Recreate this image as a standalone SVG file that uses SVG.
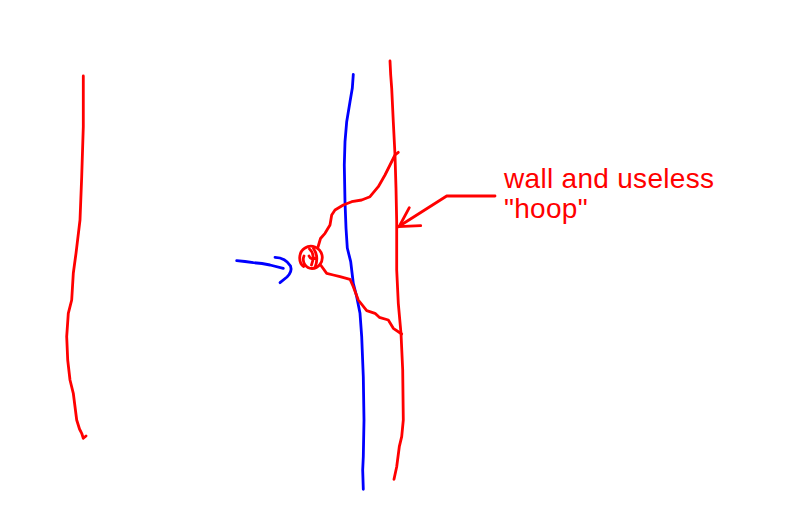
<svg xmlns="http://www.w3.org/2000/svg" width="800" height="517" viewBox="0 0 800 517">
<style>
.r{fill:none;stroke:#ff0000;stroke-width:2.8;stroke-linecap:round;stroke-linejoin:round}
.b{fill:none;stroke:#0000ff;stroke-width:2.8;stroke-linecap:round;stroke-linejoin:round}
.t{fill:#ff0000;font-family:"Liberation Sans",Arial,sans-serif;font-size:28px;letter-spacing:0.3px}
</style>
<rect width="800" height="517" fill="#ffffff"/>
<g id="left-wall">
<polyline class="r" points="83.3,76 83.3,126.7 81.7,176.7 80,220 76,253.3 73.3,273.3 71.7,300 68.3,313.3 66.7,336.7 67.7,360 70,380 73.3,393.3 76.7,420 79.5,429 81.7,433.3 83.3,438.3 86,436"/>
</g>
<g id="blue-line">
<polyline class="b" points="353.3,74.3 352.3,88.3 350,101.7 346.7,121.7 345,141.7 344.3,165 345,201.7 346,228 347.3,248 350.7,261.7 352.3,275 353.3,283.3 356.7,296.7 360,313.3 361.7,336.7 363.3,376.7 364,420 363.3,456.7 362.7,470 363.3,489.3"/>
</g>
<g id="red-wall">
<polyline class="r" points="390,61 390.7,75 391.7,88.3 393.3,121.7 395,155 396,188.3 396.7,221.7 396.7,270 398.3,303.3 401,333.3 402.7,370 403.3,420 401.7,436.7 399.3,446.7 396.7,466.7 394,479.3"/>
</g>
<g id="hoop">
<polyline class="r" points="398.3,152.3 395,155 390,165 385,175 378.3,186.7 370,196.7 361.7,200 351.7,201.7 343.3,205 335,210 331.7,215 330,225 325,233.3 320.5,238.5 318,247"/>
<path class="r" d="M303.5,266.5 C298,262 298.5,252 305,248 C311,244 320,247 322,255 C323.5,262 318.5,268.5 312,268.5 C306,268.5 301.5,262 304,256"/>
<path class="r" d="M309.5,249 C313,252 314,258 311.5,265 M313.5,248.5 C317.5,254 317.5,261 315,267.5 M309,256 C310.5,259.5 313,260 316.5,257.5"/>
<polyline class="r" points="321,265.5 326.7,273.3 333.3,275 340,276.7 350,279.3 353.3,286.7 358.3,300 366.7,310.7 375,313.3 379.3,317.3 388.3,320 393.3,328.3 401.7,334"/>
</g>
<g id="blue-arrow">
<polyline class="b" points="236.7,260.7 245,261.5 253.3,262.7 262,263.5 270,265 283.3,268.3"/>
<path class="b" d="M275,257.3 C281,257.5 287,260 290.5,266 C292,270 290,274 287,277 L280,282.7"/>
</g>
<g id="label">
<text class="t" x="504" y="188">wall and useless</text>
<text class="t" x="504" y="218">"hoop"</text>
</g>
<g id="connectors">
<polyline class="r" points="495,196 446.7,196 398.3,226.7"/>
<polyline class="r" points="409.3,207.7 400,225"/>
<polyline class="r" points="420.7,225.7 398.3,226.7"/>
</g>
</svg>
